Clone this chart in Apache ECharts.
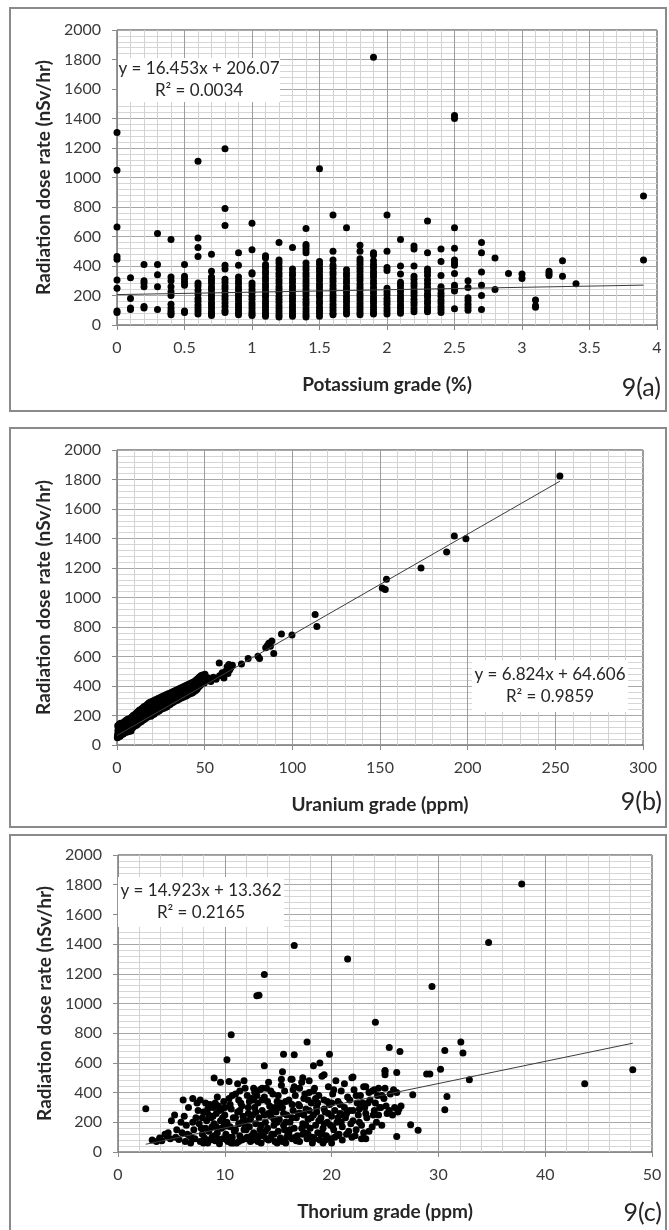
<!DOCTYPE html>
<html lang="en">
<head>
<meta charset="UTF-8">
<title>Radiation dose rate vs K, U, Th grade</title>
<style>
    html, body { margin: 0; padding: 0; background: #fff; }
    #main { width: 669px; height: 1230px; }
</style>
</head>
<body>
<div id="main"></div>
<script src="https://cdn.jsdelivr.net/npm/echarts@6/dist/echarts.min.js"></script>
<script type="text/javascript">
    // ---- 9(a) potassium: one list of dose values per grade column
    var kGrades = [0, 0.1, 0.2, 0.3, 0.4, 0.5, 0.6, 0.7, 0.8, 0.9, 1.0, 1.1, 1.2, 1.3, 1.4, 1.5, 1.6, 1.7, 1.8, 1.9,
        2.0, 2.1, 2.2, 2.3, 2.4, 2.5, 2.6, 2.7, 2.8, 2.9, 3.0, 3.1, 3.2, 3.3, 3.4, 3.9];
    var kDose = [
        [1305, 1050, 665, 465, 445, 305, 250, 95, 85],
        [320, 180, 115, 105],
        [410, 300, 285, 260, 125, 115],
        [620, 410, 340, 260, 105],
        [580, 325, 300, 260, 225, 200, 140, 115, 95, 80, 70],
        [410, 330, 310, 290, 270, 95, 85],
        [1110, 590, 525, 465, 285, 265, 235, 210, 180, 160, 135, 115, 95, 75],
        [480, 365, 325, 305, 285, 260, 240, 215, 195, 175, 150, 130, 110, 90, 75, 65],
        [1195, 790, 675, 405, 380, 310, 290, 265, 245, 220, 195, 175, 150, 125, 100, 85],
        [490, 405, 325, 300, 280, 255, 235, 210, 190, 170, 145, 125, 105, 85, 70],
        [690, 510, 355, 345, 285, 265, 240, 220, 195, 175, 150, 130, 110, 90, 75, 65],
        [470, 455, 410, 390, 365, 345, 320, 300, 275, 255, 230, 210, 190, 165, 145, 125, 105, 85, 70, 60],
        [560, 440, 420, 395, 375, 350, 330, 305, 285, 260, 240, 220, 195, 175, 155, 130, 110, 90, 70, 55],
        [525, 380, 355, 335, 310, 290, 265, 245, 225, 200, 180, 160, 135, 115, 95, 75, 60],
        [655, 545, 530, 510, 490, 420, 395, 375, 350, 330, 305, 285, 265, 240, 220, 200, 175, 155, 135, 110, 90, 70, 55],
        [1060, 430, 410, 385, 365, 340, 320, 300, 275, 255, 230, 210, 190, 165, 145, 120, 100, 80, 60],
        [745, 500, 440, 405, 385, 360, 340, 315, 295, 270, 250, 230, 205, 185, 165, 140, 120, 100, 80, 70],
        [660, 375, 350, 330, 305, 285, 260, 240, 220, 195, 175, 155, 130, 110, 90, 75],
        [540, 500, 450, 430, 410, 385, 365, 340, 320, 300, 275, 255, 235, 210, 190, 170, 145, 125, 105, 85, 70],
        [1815, 490, 475, 435, 410, 390, 365, 345, 325, 300, 280, 255, 235, 215, 190, 170, 150, 125, 105, 85, 75],
        [745, 500, 390, 370, 250, 225, 205, 180, 160, 140, 115, 95, 75],
        [580, 400, 345, 290, 270, 245, 225, 200, 180, 160, 135, 115, 95, 80],
        [535, 515, 400, 330, 310, 285, 265, 240, 220, 200, 175, 155, 135, 110, 90],
        [705, 490, 380, 360, 335, 305, 280, 255, 235, 210, 190, 165, 145, 120, 100, 90],
        [515, 430, 335, 260, 240, 215, 195, 170, 150, 125, 105, 85],
        [1420, 1400, 660, 520, 440, 420, 405, 350, 270, 250, 230, 110],
        [300, 255, 185, 165, 140, 120, 100],
        [560, 490, 360, 270, 200, 105],
        [455, 240],
        [350],
        [345, 315],
        [170, 130, 120],
        [365, 350, 335],
        [435, 330],
        [280],
        [875, 440]
    ];
    var kFit = {slope: 16.453, intercept: 206.07, r2: '0.0034', from: 0, to: 3.9};

    // ---- 9(b) uranium: [ppm, dose]
    var uBand = [
        [0.3, 70], [0.5, 95], [0.6, 60], [0.8, 120], [1.0, 80], [1.1, 100], [1.3, 65], [1.5, 135], [1.6, 85],
        [1.9, 110], [2.1, 72], [2.3, 125], [2.5, 95], [2.8, 140], [3.0, 80], [3.2, 110], [3.5, 128], [3.8, 92],
        [4.1, 145], [4.4, 105], [4.8, 120], [5.2, 150], [5.5, 98], [5.9, 132], [6.3, 115], [6.6, 158], [7.0, 125],
        [7.4, 145], [7.8, 108], [8.2, 170], [8.6, 135], [9.0, 155], [9.4, 182], [9.8, 140], [10.3, 165], [10.7, 190],
        [11.1, 150], [11.6, 178], [12.0, 200], [12.4, 160], [12.9, 185], [13.3, 212], [13.8, 172], [14.2, 195],
        [14.7, 220], [15.1, 180], [15.6, 205], [16.0, 232], [16.5, 192], [17.0, 218], [17.4, 245], [17.9, 205],
        [18.3, 230], [18.8, 255], [19.2, 212], [19.7, 240], [20.1, 268], [20.6, 222], [21.0, 250], [21.5, 278],
        [21.9, 232], [22.4, 258], [22.8, 285], [23.3, 240], [23.7, 268], [24.2, 292], [24.6, 250], [25.1, 275],
        [25.5, 298], [26.0, 258], [26.4, 282], [26.9, 305], [27.3, 265], [27.8, 290], [28.2, 312], [28.7, 272],
        [29.1, 298], [29.6, 320], [30.0, 280], [30.5, 305], [30.9, 330], [31.4, 288], [31.8, 312], [32.3, 338],
        [32.7, 295], [33.2, 320], [33.6, 345], [34.1, 302], [34.5, 328], [35.0, 352], [35.4, 310], [35.9, 336],
        [36.3, 360], [36.8, 318], [37.2, 345], [37.7, 368], [38.1, 326], [38.6, 352], [39.0, 375], [39.5, 333],
        [39.9, 360], [40.4, 382], [40.8, 342], [41.3, 368], [41.7, 390], [42.2, 350], [42.6, 376], [43.1, 355],
        [43.5, 385], [44.0, 362], [44.4, 392], [44.9, 370], [45.3, 410], [45.8, 380], [46.2, 430], [46.7, 395],
        [47.1, 445], [47.6, 405], [48.0, 455], [48.5, 420], [49.0, 440], [49.6, 465], [50.2, 480], [51.0, 435],
        [52.0, 455], [53.5, 430], [55.0, 460], [56.5, 445], [58.5, 470], [60.0, 490], [61.0, 455], [62.0, 500],
        [62.8, 530], [63.3, 485], [63.8, 545], [64.3, 510], [65.0, 525], [65.8, 540]
    ];
    var uBandEdge = [
        [0.2, 50], [0.4, 130], [0.7, 110], [0.9, 55], [1.2, 140], [1.4, 115], [1.8, 60], [2.0, 148], [2.2, 100],
        [2.6, 70], [2.9, 115], [3.3, 150], [3.6, 75], [4.0, 95], [4.3, 160], [4.6, 130], [5.0, 85], [5.4, 170],
        [5.8, 100], [6.1, 175], [6.5, 90], [6.9, 150], [7.2, 180], [7.6, 120], [8.0, 95], [8.4, 190], [8.8, 115],
        [9.2, 200], [9.6, 125], [10.0, 205], [10.5, 130], [10.9, 215], [11.3, 135], [11.8, 225], [12.2, 145],
        [12.7, 235], [13.1, 155], [13.5, 240], [14.0, 160], [14.4, 250], [14.9, 170], [15.3, 260], [15.8, 175],
        [16.2, 265], [16.7, 185], [17.2, 275], [17.6, 190], [18.1, 285], [18.5, 200], [19.0, 290], [19.4, 195],
        [19.9, 295], [20.4, 205], [20.8, 300], [21.3, 210], [21.7, 305], [22.1, 220], [22.6, 310], [23.0, 225],
        [23.5, 315], [24.0, 230], [24.4, 320], [24.9, 240], [25.3, 325], [25.8, 245], [26.2, 330], [26.7, 250],
        [27.1, 335], [27.6, 255], [28.0, 340], [28.5, 260], [28.9, 345], [29.4, 270], [29.8, 350], [30.3, 275],
        [30.7, 355], [31.2, 285], [31.6, 360], [32.1, 290], [32.5, 365], [33.0, 300], [33.4, 370], [33.9, 305],
        [34.3, 375], [34.8, 310], [35.2, 380], [35.7, 320], [36.1, 385], [36.6, 325], [37.0, 390], [37.5, 330],
        [37.9, 395], [38.4, 340], [38.8, 400], [39.3, 345], [39.7, 405], [40.2, 350], [40.6, 410], [41.1, 360],
        [41.5, 415], [42.0, 365], [42.4, 420], [42.9, 372], [43.3, 425], [43.8, 380], [44.2, 430], [44.7, 385],
        [45.1, 440], [45.6, 395], [46.0, 450], [46.5, 410], [46.9, 460], [47.4, 425], [47.8, 470], [48.3, 435],
        [48.8, 475], [49.3, 450], [49.8, 420]
    ];
    var uOutliers = [
        [58.3, 556], [71.0, 549], [74.8, 587], [80.4, 601], [81.3, 587], [84.8, 660], [85.8, 675], [86.6, 690],
        [87.5, 670], [88.3, 705], [89.4, 621], [93.8, 753], [99.8, 746], [113.0, 885], [114.0, 803],
        [151.3, 1064], [153.0, 1055], [153.7, 1123], [173.4, 1200], [188.0, 1309], [192.4, 1417],
        [199.0, 1399], [252.6, 1823]
    ];
    var uFit = {slope: 6.824, intercept: 64.606, r2: '0.9859', from: 0, to: 252.6};

    // ---- 9(c) thorium: [ppm, dose]
    var thCloud = [
        [2.6, 291], [3.2, 80], [3.9, 95], [4.1, 75], [4.4, 120], [4.6, 105], [4.9, 90], [5.0, 210], [5.3, 250],
        [5.4, 100], [5.7, 85], [5.9, 200], [6.0, 130], [6.1, 350], [6.3, 70], [6.4, 180], [6.6, 300], [6.7, 110],
        [6.8, 60], [7.0, 360], [7.1, 150], [7.2, 90], [7.3, 230], [7.4, 330], [7.6, 190], [7.7, 70], [7.9, 120],
        [8.0, 270], [8.1, 95], [8.2, 160], [8.3, 210], [8.4, 60], [8.5, 140], [8.6, 320], [8.7, 230], [8.8, 100],
        [8.9, 300], [9.0, 190], [9.1, 75], [9.2, 260], [9.3, 130], [9.4, 310], [9.5, 55], [9.6, 210], [9.7, 160],
        [9.8, 90], [9.9, 340], [10.0, 250], [10.1, 120], [10.2, 200], [10.3, 70], [10.4, 360], [10.5, 170],
        [10.6, 290], [10.7, 100], [10.8, 230], [10.9, 140], [11.0, 390], [11.1, 60], [11.2, 270], [11.3, 190],
        [11.4, 110], [11.5, 330], [11.6, 80], [11.7, 240], [11.8, 150], [11.9, 430], [12.0, 210], [12.1, 100],
        [12.2, 300], [12.3, 170], [12.4, 70], [12.5, 360], [12.6, 250], [12.7, 130], [12.8, 400], [12.9, 190],
        [13.0, 90], [13.1, 330], [13.2, 230], [13.3, 150], [13.4, 60], [13.5, 280], [13.6, 110], [13.7, 370],
        [13.8, 200], [13.9, 430], [14.0, 160], [14.1, 80], [14.2, 310], [14.3, 240], [14.4, 120], [14.5, 390],
        [14.6, 180], [14.7, 70], [14.8, 270], [14.9, 340], [15.0, 140], [15.1, 220], [15.2, 95], [15.3, 490],
        [15.4, 300], [15.5, 180], [15.6, 410], [15.7, 60], [15.8, 250], [15.9, 130], [16.0, 350], [16.1, 200],
        [16.2, 490], [16.3, 90], [16.4, 280], [16.5, 160], [16.6, 380], [16.7, 230], [16.8, 110], [16.9, 320],
        [17.0, 70], [17.1, 260], [17.2, 470], [17.3, 190], [17.4, 360], [17.5, 130], [17.6, 290], [17.7, 90],
        [17.8, 220], [17.9, 400], [18.0, 160], [18.1, 330], [18.2, 100], [18.3, 250], [18.4, 430], [18.5, 180],
        [18.6, 300], [18.7, 130], [18.8, 380], [18.9, 80], [19.0, 230], [19.1, 510], [19.2, 160], [19.3, 350],
        [19.4, 270], [19.5, 110], [19.6, 200], [19.7, 440], [19.8, 320], [19.9, 90], [20.0, 240], [20.1, 390],
        [20.2, 150], [20.3, 280], [20.4, 480], [20.5, 200], [20.6, 340], [20.7, 120], [20.8, 260], [20.9, 410],
        [21.0, 170], [21.2, 300], [21.3, 230], [21.5, 370], [21.6, 140], [21.7, 280], [21.9, 500], [22.0, 210],
        [22.1, 420], [22.2, 110], [22.4, 330], [22.5, 250], [22.7, 380], [22.8, 180], [23.0, 440], [23.1, 300],
        [23.2, 90], [23.3, 230], [23.5, 400], [23.6, 350], [23.8, 170], [24.0, 280], [24.2, 200], [24.4, 430],
        [24.6, 300], [24.7, 180], [24.9, 360], [25.0, 430], [25.2, 260], [25.5, 390], [25.7, 250], [25.9, 300],
        [26.1, 400], [26.3, 290], [26.5, 310],
        [8.0, 60], [8.5, 250], [9.0, 110], [9.2, 170], [9.5, 280], [9.8, 230], [10.2, 80], [10.5, 320], [10.8, 60],
        [11.0, 150], [11.3, 350], [11.6, 200], [11.9, 90], [12.2, 260], [12.5, 110], [12.8, 300], [13.1, 70],
        [13.4, 180], [13.7, 250], [14.0, 340], [14.3, 95], [14.6, 220], [14.9, 60], [15.2, 330], [15.5, 260],
        [15.8, 100], [16.1, 150], [16.4, 420], [16.7, 75], [17.0, 310], [17.3, 120], [17.6, 180], [17.9, 280],
        [18.2, 60], [18.5, 360], [18.8, 210], [19.1, 130], [19.4, 80], [19.7, 260], [20.0, 330], [20.3, 100],
        [20.6, 230], [21.0, 80], [21.4, 260], [21.8, 190], [22.3, 150], [22.6, 290], [23.0, 130], [23.4, 330],
        [23.9, 250], [12.0, 150], [12.7, 350], [13.3, 420], [14.4, 280], [15.0, 380], [15.7, 200], [16.3, 320],
        [17.0, 430], [17.8, 350], [18.6, 270], [19.3, 190], [20.1, 170], [10.0, 300], [11.4, 280], [9.3, 370],
        [7.9, 230], [8.8, 170],
        [10.4, 475], [11.2, 460], [12.7, 430], [13.5, 430], [15.4, 540], [15.3, 450], [16.3, 490], [17.3, 500],
        [19.3, 520], [22.0, 505], [23.2, 440], [25.0, 540], [26.1, 535], [24.5, 300], [9.0, 498]
    ];
    var thCloudMore = [
        [6.2, 240], [6.9, 95], [7.5, 280], [7.8, 160], [8.2, 330], [8.6, 80], [8.9, 240], [9.3, 90], [9.7, 290],
        [10.1, 175], [10.4, 100], [10.7, 380], [11.0, 230], [11.3, 70], [11.6, 310], [11.9, 170], [12.1, 380],
        [12.4, 220], [12.6, 80], [12.9, 270], [13.2, 110], [13.5, 350], [13.8, 140], [14.1, 260], [14.3, 410],
        [14.6, 120], [14.9, 200], [15.1, 300], [15.4, 70], [15.7, 340], [16.0, 120], [16.3, 230], [16.6, 100],
        [16.9, 260], [17.2, 160], [17.5, 390], [17.8, 120], [18.1, 230], [18.4, 90], [18.7, 330], [19.0, 120],
        [19.3, 290], [19.6, 340], [19.9, 180], [20.2, 420], [20.5, 110], [20.8, 320], [21.1, 250], [21.4, 120],
        [21.7, 350], [22.0, 280], [22.3, 380], [22.6, 200], [22.9, 330], [23.2, 260], [23.5, 140], [23.8, 410],
        [24.1, 330], [24.4, 250], [24.7, 380], [25.1, 310], [25.4, 280], [25.8, 420], [26.2, 270], [7.0, 200],
        [7.7, 350], [8.4, 290], [9.1, 330], [9.9, 200], [10.6, 60], [11.4, 410], [12.3, 340], [13.0, 380],
        [13.9, 90], [14.7, 300], [15.6, 150], [16.5, 440], [17.4, 250], [18.3, 410], [19.2, 60], [20.0, 60],
        [20.9, 200], [21.9, 100], [22.8, 90], [24.0, 420], [5.5, 150], [6.5, 120], [4.7, 130], [3.6, 70],
        [9.6, 470], [11.8, 480], [14.1, 470], [17.9, 480], [21.2, 460], [24.3, 380]
    ];
    var thOutliers = [
        [37.8, 1805], [34.7, 1410], [16.5, 1390], [21.5, 1300], [13.7, 1195], [13.0, 1052], [13.2, 1056],
        [29.4, 1114], [24.1, 874], [10.6, 789], [17.7, 740], [32.1, 740], [25.4, 704], [26.4, 677], [30.6, 684],
        [32.3, 666], [10.2, 621], [16.5, 655], [15.5, 659], [19.8, 659], [13.7, 581], [18.3, 581], [18.9, 599],
        [30.2, 558], [28.9, 525], [29.2, 525], [32.9, 487], [43.7, 460], [48.2, 554], [30.8, 374], [30.6, 285],
        [27.6, 386], [27.4, 184], [28.1, 146], [26.1, 105], [25.0, 549], [25.0, 520]
    ];
    var thFit = {slope: 14.923, intercept: 13.362, r2: '0.2165', from: 2.6, to: 48.2};

    var yTicks = {min: 0, max: 2000, interval: 200};

    var kPoints = [];
    kGrades.forEach(function (g, i) {
        kDose[i].forEach(function (v) { kPoints.push([g, v]); });
    });

    function fitLine(f) {
        return [[f.from, f.slope * f.from + f.intercept], [f.to, f.slope * f.to + f.intercept]];
    }
    function eqText(f) {
        return 'y = ' + f.slope + 'x + ' + f.intercept + '\nR\u00B2 = ' + f.r2;
    }

    var font = 'Lato, "Liberation Sans", sans-serif';
    var txt = '#262626';

    function xAxisOf(i, max, interval, name) {
        return {
            gridIndex: i, type: 'value', min: 0, max: max, interval: interval,
            name: name, nameLocation: 'middle', nameGap: 50,
            nameTextStyle: {fontFamily: font, fontWeight: 'bold', fontSize: 19, color: txt},
            axisLine: {show: true, onZero: false, lineStyle: {color: '#8a8a8a'}},
            axisTick: {show: true, length: 5, lineStyle: {color: '#8a8a8a'}},
            axisLabel: {margin: 15, fontFamily: font, fontSize: 16, color: '#3a3a3a',
                formatter: function (v) { return String(v); }},
            splitLine: {show: true, lineStyle: {color: '#9c9c9c'}},
            minorTick: {show: false, splitNumber: 5},
            minorSplitLine: {show: true, lineStyle: {color: '#d2d2d2'}}
        };
    }
    function yAxisOf(i) {
        return {
            gridIndex: i, type: 'value', min: yTicks.min, max: yTicks.max, interval: yTicks.interval,
            name: 'Radiation dose rate (nSv/hr)', nameLocation: 'middle', nameGap: 58, nameRotate: 90,
            nameTextStyle: {fontFamily: font, fontWeight: 'bold', fontSize: 19, color: txt},
            axisLine: {show: true, lineStyle: {color: '#8a8a8a'}},
            axisTick: {show: true, length: 5, lineStyle: {color: '#8a8a8a'}},
            axisLabel: {margin: 16, fontFamily: font, fontSize: 16, color: '#3a3a3a',
                formatter: function (v) { return String(v); }},
            splitLine: {show: true, lineStyle: {color: '#a8a8a8'}},
            minorTick: {show: false, splitNumber: 5},
            minorSplitLine: {show: true, lineStyle: {color: '#d6d6d6'}}
        };
    }
    function dots(i, data) {
        return {
            type: 'scatter', xAxisIndex: i, yAxisIndex: i, data: data,
            symbol: 'circle', symbolSize: 7, itemStyle: {color: '#000', opacity: 1}, z: 3
        };
    }
    function trend(i, f) {
        return {
            type: 'line', xAxisIndex: i, yAxisIndex: i, data: fitLine(f), showSymbol: false,
            lineStyle: {color: '#3c3c3c', width: 1}, z: 4, silent: true
        };
    }
    function eqBox(x, y, w, h, f) {
        return [
            {type: 'rect', z: 50, silent: true, shape: {x: x, y: y, width: w, height: h}, style: {fill: '#fff'}},
            {type: 'text', z: 51, silent: true, x: x + w / 2, y: y + h / 2, style: {
                text: eqText(f), align: 'center', verticalAlign: 'middle', lineHeight: 22,
                font: '17px ' + font, fill: txt
            }}
        ];
    }
    function panel(y, h) {
        return {type: 'rect', silent: true, z: 60, shape: {x: 10, y: y, width: 656, height: h},
            style: {fill: 'none', stroke: '#8a8a8a', lineWidth: 2}};
    }
    function tag(x, y, s) {
        return {type: 'text', x: x, y: y, z: 60, silent: true,
            style: {text: s, align: 'right', verticalAlign: 'middle', font: '25px ' + font, fill: txt}};
    }

    var chart = echarts.init(document.getElementById('main'));
    var gridStyle = {show: true, backgroundColor: '#fff', borderColor: '#333', borderWidth: 1};
    var option = {
        animation: false,
        backgroundColor: '#fff',
        grid: [
            Object.assign({left: 117, top: 30, width: 540, height: 295}, gridStyle),
            Object.assign({left: 117, top: 450, width: 526, height: 295}, gridStyle),
            Object.assign({left: 118, top: 855, width: 534, height: 297}, gridStyle)
        ],
        xAxis: [
            xAxisOf(0, 4, 0.5, 'Potassium grade (%)'),
            xAxisOf(1, 300, 50, 'Uranium grade (ppm)'),
            xAxisOf(2, 50, 10, 'Thorium grade (ppm)')
        ],
        yAxis: [yAxisOf(0), yAxisOf(1), yAxisOf(2)],
        series: [
            dots(0, kPoints), trend(0, kFit),
            dots(1, uBand.concat(uBandEdge, uOutliers)), trend(1, uFit),
            dots(2, thCloud.concat(thCloudMore, thOutliers)), trend(2, thFit)
        ],
        graphic: [
            panel(8, 403), panel(428, 399), panel(835, 420),
            tag(661, 388, '9(a)'), tag(662, 802, '9(b)'), tag(662, 1213, '9(c)')
        ].concat(
            eqBox(118, 58, 162, 44, kFit),
            eqBox(472, 660, 156, 52, uFit),
            eqBox(118, 877, 166, 50, thFit)
        )
    };
    chart.setOption(option);
</script>
</body>
</html>
